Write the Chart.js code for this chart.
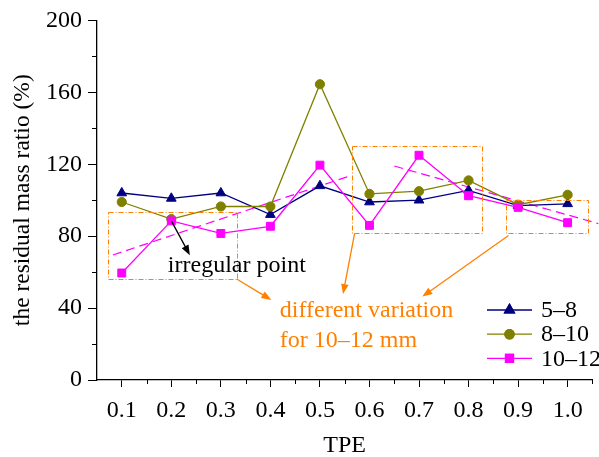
<!DOCTYPE html>
<html><head><meta charset="utf-8">
<script src="https://cdn.jsdelivr.net/npm/chart.js@4/dist/chart.umd.min.js"></script>
<style>html,body{margin:0;padding:0;background:#fff}</style>
</head><body>
<canvas id="c" width="599" height="457"></canvas>
<script>
// ---- data ----
const tpe = [0.1, 0.2, 0.3, 0.4, 0.5, 0.6, 0.7, 0.8, 0.9, 1.0];
const ratio5to8   = [104, 101, 104, 92, 108, 99, 100, 105.5, 97, 98];
const ratio8to10  = [99, 89.5, 96.5, 96.5, 164.5, 103.5, 105, 111, 97.5, 103];
const ratio10to12 = [59.5, 88.5, 81.5, 85.5, 119.5, 86, 125, 102.5, 96, 87.5];
const trend1X = [0.082, 0.555], trend1Y = [69.5, 113];
const trend2X = [0.65, 1.062],  trend2Y = [119, 87];
const yTicks = [0, 40, 80, 120, 160, 200];
const seriesLabels = ['5\u20138', '8\u201310', '10\u201312'];
// annotation boxes / arrows in data units
const boxes = [[0.073, 93.7, 0.333, 56.0], [0.5655, 129.9, 0.8268, 81.5], [0.8766, 100.1, 1.0405, 81.5]];
const orangeArrows = [[0.332, 56.2, 0.402, 44.5], [0.570, 81.5, 0.5466, 47.8], [0.8806, 80.4, 0.7067, 46.4]];
const blackArrow = [0.2006, 88.2, 0.2375, 69.4];
const notes = [
  {text: 'irregular point', x: 0.193, y: 60.0, color: '#000'},
  {text: 'different variation', x: 0.419, y: 34.9, color: '#FF8000'},
  {text: 'for 10\u201312 mm', x: 0.419, y: 18.3, color: '#FF8000'}
];

const FONT = '"Liberation Serif", "Times New Roman", serif';
const pts = (xs, ys) => xs.map((x, i) => ({x, y: ys[i]}));

const NAVY = '#000080', OLIVE = '#808000', MAG = '#FF00FF', ORANGE = '#FF8000';

const datasets = [
  {label: seriesLabels[0], data: pts(tpe, ratio5to8), borderColor: NAVY, backgroundColor: NAVY,
   pointStyle: 'triangle', pointRadius: 5.6, borderWidth: 1.3, pointBorderWidth: 1, order: 2, legend: true},
  {label: seriesLabels[1], data: pts(tpe, ratio8to10), borderColor: OLIVE, backgroundColor: OLIVE,
   pointStyle: 'circle', pointRadius: 4.6, borderWidth: 1.3, pointBorderWidth: 1, order: 1, legend: true},
  {label: seriesLabels[2], data: pts(tpe, ratio10to12), borderColor: MAG, backgroundColor: MAG,
   pointStyle: 'rect', pointRadius: 5.6, borderWidth: 1.3, pointBorderWidth: 1, order: 0, legend: true},
  {label: 'trend1', data: pts(trend1X, trend1Y), borderColor: MAG, borderDash: [9, 5], borderWidth: 1.2,
   pointRadius: 0, order: 3, clip: false},
  {label: 'trend2', data: pts(trend2X, trend2Y), borderColor: MAG, borderDash: [9, 5], borderWidth: 1.2,
   pointRadius: 0, order: 3, clip: false}
];

function arrow(ctx, x1, y1, x2, y2, color) {
  const a = Math.atan2(y2 - y1, x2 - x1), L = 10, W = 3.8;
  ctx.save();
  ctx.strokeStyle = color; ctx.fillStyle = color; ctx.lineWidth = 1.3; ctx.setLineDash([]);
  ctx.beginPath(); ctx.moveTo(x1, y1);
  ctx.lineTo(x2 - Math.cos(a) * L * 0.8, y2 - Math.sin(a) * L * 0.8); ctx.stroke();
  ctx.beginPath(); ctx.moveTo(x2, y2);
  ctx.lineTo(x2 - Math.cos(a) * L - Math.sin(a) * W, y2 - Math.sin(a) * L + Math.cos(a) * W);
  ctx.lineTo(x2 - Math.cos(a) * L + Math.sin(a) * W, y2 - Math.sin(a) * L - Math.cos(a) * W);
  ctx.closePath(); ctx.fill();
  ctx.restore();
}

const extras = {
  id: 'extras',
  afterDraw(chart) {
    const ctx = chart.ctx, xs = chart.scales.x, ys = chart.scales.y;
    const X = v => xs.getPixelForValue(v), Y = v => ys.getPixelForValue(v);
    ctx.save();
    // minor ticks
    ctx.strokeStyle = '#000'; ctx.lineWidth = 1;
    ctx.beginPath();
    for (let i = 0; i < tpe.length; i++) {
      const px = Math.round(X(tpe[i] + 0.05)) + 0.5;
      ctx.moveTo(px, ys.bottom); ctx.lineTo(px, ys.bottom + 4);
    }
    for (let i = 0; i < yTicks.length - 1; i++) {
      const py = Math.round(Y(yTicks[i] + 20)) + 0.5;
      ctx.moveTo(xs.left, py); ctx.lineTo(xs.left - 5, py);
    }
    ctx.stroke();
    // boxes
    ctx.strokeStyle = ORANGE; ctx.lineWidth = 1; ctx.setLineDash([5, 2, 1, 2]);
    boxes.forEach(b => {
      const x1 = Math.round(X(b[0])) + 0.5, y1 = Math.round(Y(b[1])) + 0.5;
      const x2 = Math.round(X(b[2])) + 0.5, y2 = Math.round(Y(b[3])) + 0.5;
      ctx.strokeRect(x1, y1, x2 - x1, y2 - y1);
    });
    ctx.setLineDash([]);
    orangeArrows.forEach(a => arrow(ctx, X(a[0]), Y(a[1]), X(a[2]), Y(a[3]), ORANGE));
    arrow(ctx, X(blackArrow[0]), Y(blackArrow[1]), X(blackArrow[2]), Y(blackArrow[3]), '#000');
    // notes
    ctx.font = '24px ' + FONT; ctx.textAlign = 'left'; ctx.textBaseline = 'alphabetic';
    notes.forEach(n => { ctx.fillStyle = n.color; ctx.fillText(n.text, X(n.x), Y(n.y)); });
    // legend
    const legendSets = chart.data.datasets.filter(d => d.legend);
    legendSets.forEach((d, i) => {
      const y = 310 + i * 24.2;
      ctx.strokeStyle = d.borderColor; ctx.lineWidth = 1.3;
      ctx.beginPath(); ctx.moveTo(487, y); ctx.lineTo(532, y); ctx.stroke();
      Chart.helpers.drawPoint(ctx, {pointStyle: d.pointStyle, radius: d.pointRadius, rotation: 0, borderWidth: 1}, 509.5, y);
      ctx.fillStyle = d.backgroundColor; ctx.fill(); ctx.strokeStyle = d.borderColor; ctx.stroke();
      ctx.fillStyle = '#000'; ctx.textBaseline = 'middle';
      ctx.fillText(d.label, 541, y + 1);
    });
    ctx.restore();
  }
};

new Chart(document.getElementById('c'), {
  type: 'line',
  data: {datasets},
  options: {
    responsive: false, animation: false,
    layout: {padding: {top: 17, right: 6, left: 0, bottom: 0}},
    plugins: {legend: {display: false}, tooltip: {enabled: false}},
    scales: {
      x: {
        type: 'linear', min: 0.05, max: 1.05,
        afterBuildTicks: s => { s.ticks = tpe.map(v => ({value: v})); },
        afterFit: s => { s.height = 77; },
        ticks: {callback: v => Number(v).toFixed(1), color: '#000', font: {family: FONT, size: 24}, padding: 9, maxRotation: 0, autoSkip: false},
        grid: {drawOnChartArea: false, tickLength: 7, color: '#000', lineWidth: 1},
        border: {color: '#000', width: 1.3},
        title: {display: true, text: 'TPE', color: '#000', font: {family: FONT, size: 24}, padding: {top: 0, bottom: -3}}
      },
      y: {
        min: 0, max: 200,
        afterBuildTicks: s => { s.ticks = yTicks.map(v => ({value: v})); },
        afterFit: s => { s.width = 97; },
        ticks: {color: '#000', font: {family: FONT, size: 24}, padding: 6},
        grid: {drawOnChartArea: false, tickLength: 9, color: '#000', lineWidth: 1},
        border: {color: '#000', width: 1.3},
        title: {display: true, text: 'the residual mass ratio (%)', color: '#000', font: {family: FONT, size: 23.5}, padding: {top: 9, bottom: 0}}
      }
    }
  },
  plugins: [extras]
});
</script>
</body></html>
